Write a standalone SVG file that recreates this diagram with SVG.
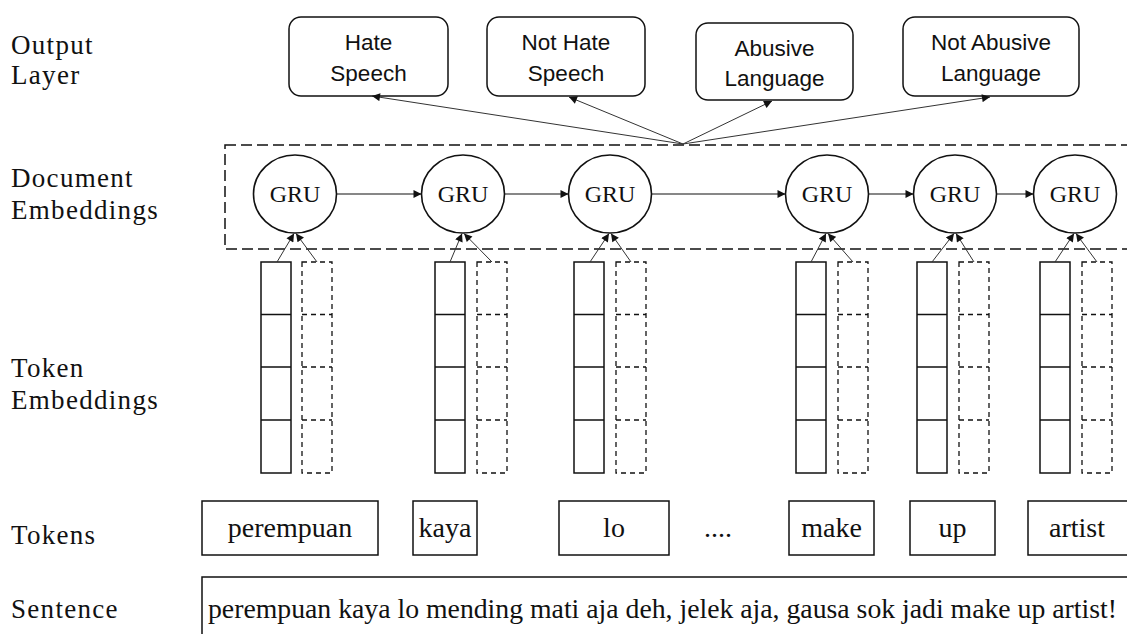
<svg xmlns="http://www.w3.org/2000/svg" width="1127" height="634" viewBox="0 0 1127 634">
<style>
.lbl{font-family:"Liberation Serif","Times New Roman",serif;font-size:27px;letter-spacing:1.3px;fill:#111}
.gru{font-family:"Liberation Serif","Times New Roman",serif;font-size:24px;fill:#111;text-anchor:middle}
.out{font-family:"Liberation Sans",Arial,sans-serif;font-size:22.5px;fill:#111;text-anchor:middle}
.tok{font-family:"Liberation Serif","Times New Roman",serif;font-size:28px;fill:#111;text-anchor:middle}
.sen{font-family:"Liberation Serif","Times New Roman",serif;font-size:28px;fill:#111}
.obox{fill:#fff;stroke:#111;stroke-width:1.5}
.box{fill:#fff;stroke:#111;stroke-width:1.5}
.circ{fill:#fff;stroke:#111;stroke-width:1.6}
.col{fill:none;stroke:#111;stroke-width:1.5}
.dcol{fill:none;stroke:#111;stroke-width:1.3;stroke-dasharray:5 4}
.frame{fill:none;stroke:#111;stroke-width:1.5;stroke-dasharray:11 5}
.arr{fill:none;stroke:#333;stroke-width:1;marker-end:url(#ah)}
.harr{fill:none;stroke:#111;stroke-width:1.2;marker-end:url(#ah)}
</style>
<defs>
<marker id="ah" viewBox="0 0 10 10" refX="10" refY="5" markerWidth="9" markerHeight="8" markerUnits="userSpaceOnUse" orient="auto">
<path d="M0,0 L10,5 L0,10 z" fill="#111"/>
</marker>
</defs>
<rect width="1127" height="634" fill="#fff"/>

<g id="labels">
<text class="lbl" x="11" y="54">Output</text>
<text class="lbl" x="11" y="84">Layer</text>
<text class="lbl" x="11" y="187">Document</text>
<text class="lbl" x="11" y="219">Embeddings</text>
<text class="lbl" x="11" y="377">Token</text>
<text class="lbl" x="11" y="409">Embeddings</text>
<text class="lbl" x="11" y="544">Tokens</text>
<text class="lbl" x="11" y="618">Sentence</text>
</g>

<g id="doc-frame"><rect class="frame" x="225" y="145" width="930" height="104"/></g>

<g id="out-hate"><rect class="obox" x="289" y="17" width="159" height="79" rx="12"/><text class="out" x="368.5" y="50">Hate</text><text class="out" x="368.5" y="81">Speech</text></g>
<g id="out-nothate"><rect class="obox" x="487" y="17" width="158" height="79" rx="12"/><text class="out" x="566" y="50">Not Hate</text><text class="out" x="566" y="81">Speech</text></g>
<g id="out-abusive"><rect class="obox" x="696" y="23" width="157" height="77" rx="12"/><text class="out" x="774.5" y="56">Abusive</text><text class="out" x="774.5" y="86">Language</text></g>
<g id="out-notabusive"><rect class="obox" x="903" y="17" width="176" height="79" rx="12"/><text class="out" x="991" y="50">Not Abusive</text><text class="out" x="991" y="81">Language</text></g>

<g id="gru1"><ellipse class="circ" cx="295" cy="194" rx="41.5" ry="39"/><text class="gru" x="295" y="202">GRU</text></g>
<g id="gru2"><ellipse class="circ" cx="463" cy="194" rx="41.5" ry="39"/><text class="gru" x="463" y="202">GRU</text></g>
<g id="gru3"><ellipse class="circ" cx="610" cy="194" rx="41.5" ry="39"/><text class="gru" x="610" y="202">GRU</text></g>
<g id="gru4"><ellipse class="circ" cx="827" cy="194" rx="41.5" ry="39"/><text class="gru" x="827" y="202">GRU</text></g>
<g id="gru5"><ellipse class="circ" cx="955" cy="194" rx="41.5" ry="39"/><text class="gru" x="955" y="202">GRU</text></g>
<g id="gru6"><ellipse class="circ" cx="1075" cy="194" rx="41.5" ry="39"/><text class="gru" x="1075" y="202">GRU</text></g>

<g id="emb1">
<rect class="col" x="261" y="262" width="30" height="211"/><path class="col" d="M261,314.5H291M261,367H291M261,420H291"/>
<rect class="dcol" x="302" y="262" width="30" height="211"/><path class="dcol" d="M302,314.5H332M302,367H332M302,420H332"/>
</g>
<g id="emb2">
<rect class="col" x="435" y="262" width="30" height="211"/><path class="col" d="M435,314.5H465M435,367H465M435,420H465"/>
<rect class="dcol" x="477" y="262" width="30" height="211"/><path class="dcol" d="M477,314.5H507M477,367H507M477,420H507"/>
</g>
<g id="emb3">
<rect class="col" x="574" y="262" width="30" height="211"/><path class="col" d="M574,314.5H604M574,367H604M574,420H604"/>
<rect class="dcol" x="616" y="262" width="30" height="211"/><path class="dcol" d="M616,314.5H646M616,367H646M616,420H646"/>
</g>
<g id="emb4">
<rect class="col" x="796" y="262" width="30" height="211"/><path class="col" d="M796,314.5H826M796,367H826M796,420H826"/>
<rect class="dcol" x="838" y="262" width="30" height="211"/><path class="dcol" d="M838,314.5H868M838,367H868M838,420H868"/>
</g>
<g id="emb5">
<rect class="col" x="917" y="262" width="30" height="211"/><path class="col" d="M917,314.5H947M917,367H947M917,420H947"/>
<rect class="dcol" x="959" y="262" width="30" height="211"/><path class="dcol" d="M959,314.5H989M959,367H989M959,420H989"/>
</g>
<g id="emb6">
<rect class="col" x="1040" y="262" width="30" height="211"/><path class="col" d="M1040,314.5H1070M1040,367H1070M1040,420H1070"/>
<rect class="dcol" x="1082" y="262" width="30" height="211"/><path class="dcol" d="M1082,314.5H1112M1082,367H1112M1082,420H1112"/>
</g>

<g id="tok-perempuan"><rect class="box" x="202" y="501" width="176" height="54"/><text class="tok" x="290" y="537">perempuan</text></g>
<g id="tok-kaya"><rect class="box" x="413" y="501" width="64" height="54"/><text class="tok" x="445" y="537">kaya</text></g>
<g id="tok-lo"><rect class="box" x="559" y="501" width="110" height="54"/><text class="tok" x="614" y="537">lo</text></g>
<g id="tok-ellipsis"><text class="tok" x="718" y="537">....</text></g>
<g id="tok-make"><rect class="box" x="789" y="501" width="85" height="54"/><text class="tok" x="831.5" y="537">make</text></g>
<g id="tok-up"><rect class="box" x="910" y="501" width="85" height="54"/><text class="tok" x="952.5" y="537">up</text></g>
<g id="tok-artist"><rect class="box" x="1028" y="501" width="120" height="54"/><text class="tok" x="1077" y="537">artist</text></g>

<g id="sentence"><rect class="box" x="202" y="577" width="960" height="80"/><text class="sen" x="208" y="618" textLength="909" lengthAdjust="spacingAndGlyphs">perempuan kaya lo mending mati aja deh, jelek aja, gausa sok jadi make up artist!</text></g>

<g id="connectors">
<path class="arr" d="M683,144L372,96"/>
<path class="arr" d="M683,144L569,97"/>
<path class="arr" d="M683,144L772,101"/>
<path class="arr" d="M683,144L990,97"/>
<path class="harr" d="M336.5,194H421.5"/>
<path class="harr" d="M504.5,194H568.5"/>
<path class="harr" d="M651.5,194H785.5"/>
<path class="harr" d="M868.5,194H913.5"/>
<path class="harr" d="M996.5,194H1033.5"/>
<path class="arr" d="M277,262L294,233.5"/>
<path class="arr" d="M317,262L296,233.5"/>
<path class="arr" d="M450,262L462,233.5"/>
<path class="arr" d="M492,262L464,233.5"/>
<path class="arr" d="M590,262L609,233.5"/>
<path class="arr" d="M631,262L611,233.5"/>
<path class="arr" d="M811,262L826,233.5"/>
<path class="arr" d="M853,262L828,233.5"/>
<path class="arr" d="M932,262L954,233.5"/>
<path class="arr" d="M974,262L956,233.5"/>
<path class="arr" d="M1055,262L1074,233.5"/>
<path class="arr" d="M1097,262L1076,233.5"/>
</g>
</svg>
